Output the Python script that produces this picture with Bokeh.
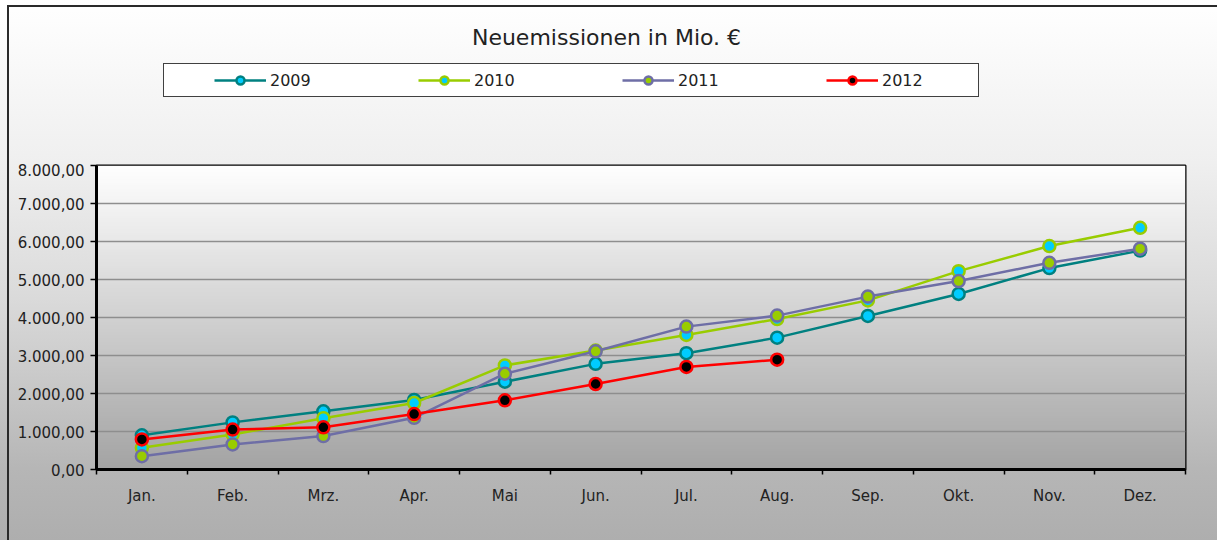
import numpy as np
from bokeh.plotting import figure
from bokeh.layouts import column
from bokeh.models import (Range1d, FixedTicker, Legend, LegendItem, Label,
                          InlineStyleSheet)
from bokeh.embed import file_html
from bokeh.resources import INLINE

# ---------------- data ----------------
months = ["Jan.", "Feb.", "Mrz.", "Apr.", "Mai", "Jun.", "Jul.", "Aug.",
          "Sep.", "Okt.", "Nov.", "Dez."]
v2009 = [900, 1240, 1530, 1830, 2310, 2780, 3060, 3470, 4040, 4620, 5300, 5760]
v2010 = [570, 920, 1350, 1750, 2740, 3130, 3540, 3960, 4450, 5220, 5880, 6360]
v2011 = [350, 660, 880, 1360, 2520, 3110, 3760, 4050, 4550, 4960, 5440, 5810]
v2012 = [790, 1050, 1110, 1460, 1820, 2250, 2700, 2890]
y_ticks = [0, 1000, 2000, 3000, 4000, 5000, 6000, 7000, 8000]
y_tick_labels = ["0,00", "1.000,00", "2.000,00", "3.000,00", "4.000,00",
                 "5.000,00", "6.000,00", "7.000,00", "8.000,00"]
title_text = "Neuemissionen in Mio. €"

FONT = "DejaVu Sans"
TXT = "#222222"

series = [
    ("2009", v2009, "#008080", "#00ccff"),
    ("2010", v2010, "#99cc00", "#00ccff"),
    ("2011", v2011, "#6e6ea6", "#99cc00"),
    ("2012", v2012, "#ff0000", "#000000"),
]

n = len(months)
centers = [i + 0.5 for i in range(n)]

W = 1217
TOP_H = 163
BOT_H = 377

# ---------------- header: title + legend ----------------
# (in a column, this frame is aligned with the chart frame below: x 96..1185)
head = figure(width=W, height=TOP_H, output_backend="svg", toolbar_location=None,
              x_range=Range1d(96, 1185), y_range=Range1d(0, TOP_H),
              min_border=0, background_fill_color=None, border_fill_color=None,
              outline_line_color=None, title=None)
head.axis.visible = False
head.grid.visible = False
head.stylesheets = [InlineStyleSheet(css=(
    ":host { background:"
    " linear-gradient(#ffffff,#ffffff) 164px 64px / 814px 32px no-repeat,"
    " linear-gradient(#404040,#404040) 163px 63px / 816px 34px no-repeat,"
    " linear-gradient(#2a2a2a,#2a2a2a) 7px 5px / 100% 2px no-repeat,"
    " linear-gradient(#2a2a2a,#2a2a2a) 7px 5px / 2px 100% no-repeat,"
    " linear-gradient(to bottom, #ffffff 0%, #efefef 100%); }"))]

items = []
for label, vals, lc, fc in series:
    xs = centers[:len(vals)]
    r1 = head.line(xs, vals, line_color=lc, line_width=2.5, visible=False)
    r2 = head.scatter(xs, vals, size=12, marker="circle", fill_color=fc,
                      line_color=lc, line_width=2.5, visible=False)
    items.append(LegendItem(label=label, renderers=[r1, r2]))

legend = Legend(items=items, orientation="horizontal", location=(118, 73),
                glyph_width=52, glyph_height=20, label_width=48, label_height=20,
                label_standoff=4, spacing=100, padding=0, margin=0,
                border_line_alpha=0, background_fill_alpha=0,
                inactive_fill_alpha=0,
                label_text_font=FONT, label_text_font_size="16px",
                label_text_color=TXT)
head.add_layout(legend)

head.add_layout(Label(x=606, y=TOP_H - 37, text=title_text, text_align="center",
                      text_baseline="middle", text_font=FONT,
                      text_font_size="22px", text_color=TXT))

# ---------------- main chart ----------------
p = figure(width=W, height=BOT_H, output_backend="svg", toolbar_location=None,
           x_range=Range1d(0, n), y_range=Range1d(0, 8000),
           min_border_left=96, min_border_right=32,
           min_border_top=2, min_border_bottom=71,
           background_fill_color=None, border_fill_color=None, title=None)
p.stylesheets = [InlineStyleSheet(css=(
    ":host { background:"
    " linear-gradient(#2a2a2a,#2a2a2a) 7px 0px / 2px 100% no-repeat,"
    " linear-gradient(to bottom, #efefef 0%, #dadada 36%, #b6b6b6 81%, #aeaeae 100%); }"))]

# plot-area gradient
steps = 256
g = np.linspace(0xa4, 0xff, steps).astype(np.uint32)
img = ((255 << 24) | (g << 16) | (g << 8) | g).astype(np.uint32).reshape(steps, 1)
p.image_rgba(image=[img], x=0, y=0, dw=n, dh=8000, level="image")

p.outline_line_color = "black"
p.outline_line_width = 2

p.xaxis.ticker = FixedTicker(ticks=centers, minor_ticks=list(range(n + 1)))
p.xaxis.major_label_overrides = {c: m for c, m in zip(centers, months)}
p.xaxis.major_tick_out = 0
p.xaxis.major_tick_in = 0
p.xaxis.minor_tick_out = 5
p.xaxis.minor_tick_in = 0
p.xaxis.minor_tick_line_color = "black"
p.xaxis.minor_tick_line_width = 1.5
p.xaxis.major_label_standoff = 12

p.yaxis.ticker = FixedTicker(ticks=y_ticks, minor_ticks=[])
p.yaxis.major_label_overrides = {t: l for t, l in zip(y_ticks, y_tick_labels)}
p.yaxis.major_tick_out = 6
p.yaxis.major_tick_in = 0
p.yaxis.minor_tick_out = 0
p.yaxis.minor_tick_in = 0
p.yaxis.major_tick_line_width = 1.5
p.yaxis.major_label_standoff = 6

for ax in (p.xaxis[0], p.yaxis[0]):
    ax.axis_line_color = "black"
    ax.axis_line_width = 3
    ax.major_tick_line_color = "black"
    ax.major_label_text_font = FONT
    ax.major_label_text_font_size = "15px"
    ax.major_label_text_color = TXT

p.xgrid.visible = False
p.ygrid.ticker = FixedTicker(ticks=y_ticks)
p.ygrid.grid_line_color = "#8e8e8e"
p.ygrid.grid_line_width = 1.5

for label, vals, lc, fc in series:
    xs = centers[:len(vals)]
    p.line(xs, vals, line_color=lc, line_width=2.5)
    p.scatter(xs, vals, size=12, marker="circle", fill_color=fc,
              line_color=lc, line_width=2.5)

layout = column(head, p, spacing=0)
open("out.html", "w").write(file_html(layout, INLINE))
